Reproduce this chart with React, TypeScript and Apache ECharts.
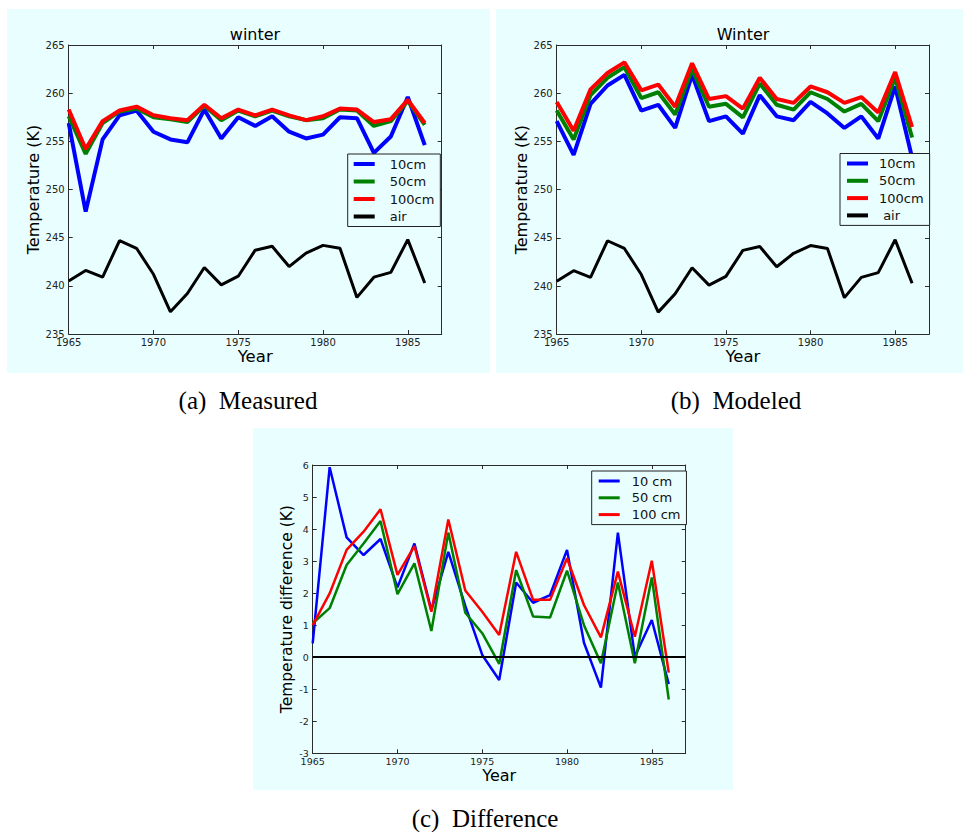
import { useEffect, useRef } from "react";
import * as echarts from "echarts";

// ---------- data ----------
const years = [1965, 1966, 1967, 1968, 1969, 1970, 1971, 1972, 1973, 1974, 1975, 1976, 1977, 1978, 1979, 1980, 1981, 1982, 1983, 1984, 1985, 1986];
const yearTicks = [1965, 1970, 1975, 1980, 1985];

const measured10 = [256.9, 247.7, 255.2, 257.7, 258.2, 256.0, 255.2, 254.9, 258.3, 255.3, 257.5, 256.6, 257.6, 256.0, 255.3, 255.7, 257.5, 257.4, 253.8, 255.5, 259.6, 254.6];
const measured50 = [257.6, 253.7, 256.9, 258.1, 258.4, 257.5, 257.3, 257.0, 258.7, 257.2, 258.2, 257.6, 258.2, 257.6, 257.2, 257.4, 258.3, 258.2, 256.6, 257.1, 259.2, 256.7];
const measured100 = [258.3, 254.2, 257.1, 258.2, 258.6, 257.7, 257.4, 257.2, 258.8, 257.4, 258.3, 257.7, 258.3, 257.7, 257.2, 257.6, 258.4, 258.3, 257.0, 257.3, 259.3, 256.9];
const airTemp = [240.5, 241.6, 240.9, 244.7, 243.9, 241.2, 237.3, 239.2, 241.9, 240.1, 241.0, 243.7, 244.1, 242.0, 243.4, 244.2, 243.9, 238.8, 240.9, 241.4, 244.8, 240.3];

const modeled10 = [257.1, 253.6, 258.9, 260.8, 261.9, 258.2, 258.8, 256.4, 261.9, 257.1, 257.6, 255.8, 259.8, 257.6, 257.2, 259.1, 257.9, 256.4, 257.6, 255.3, 260.7, 253.3];
const modeled50 = [258.2, 255.2, 259.8, 261.6, 262.7, 259.5, 260.1, 257.8, 262.5, 258.6, 258.9, 257.5, 261.0, 258.8, 258.3, 260.1, 259.4, 258.1, 258.9, 257.1, 261.6, 255.4];
const modeled100 = [259.1, 256.1, 260.4, 262.1, 263.2, 260.3, 260.9, 258.6, 263.1, 259.4, 259.7, 258.4, 261.6, 259.4, 259.0, 260.7, 260.1, 259.0, 259.6, 258.0, 262.2, 256.5];

const diff10 = [0.43, 5.93, 3.74, 3.19, 3.69, 2.18, 3.55, 1.47, 3.29, 1.6, 0.07, -0.71, 2.33, 1.7, 1.94, 3.35, 0.45, -0.95, 3.89, 0.02, 1.16, -0.84];
const diff50 = [1.06, 1.53, 2.88, 3.55, 4.25, 1.97, 2.93, 0.82, 3.89, 1.39, 0.75, -0.21, 2.72, 1.27, 1.24, 2.7, 1.0, -0.19, 2.33, -0.19, 2.49, -1.32];
const diff100 = [1.0, 1.99, 3.35, 3.92, 4.62, 2.57, 3.47, 1.42, 4.3, 2.08, 1.42, 0.69, 3.29, 1.79, 1.79, 3.09, 1.63, 0.62, 2.67, 0.64, 3.01, -0.48];

const namesAB = ["10cm", "50cm", "100cm", "air"];
const namesB = ["10cm", "50cm", "100cm", " air"];
const namesC = ["10 cm", "50 cm", "100 cm"];

// ---------- styling ----------
const BG = "#e9fefe";
const AXIS = "#2b2b2b";
const FONT = "DejaVu Sans";
const SERIF = "Liberation Serif";
const BLUE = "#0000ff";
const GREEN = "#008000";
const RED = "#ff0000";
const BLACK = "#000000";

const pairs = (vals: number[]) => vals.map((v, i) => [years[i], v]);

function axesFor(
  grid: number,
  yMin: number,
  yMax: number,
  yInt: number,
  yName: string,
  yGap: number,
  yNameSize: number,
  xGap: number,
  xNameSize: number,
  tickSize: number
) {
  const line = { show: true, onZero: false, lineStyle: { color: AXIS, width: 1 } };
  const tick = { show: true, inside: true, length: 4, lineStyle: { color: AXIS, width: 1 } };
  const xAxes = [
    {
      gridIndex: grid,
      type: "value",
      min: 1965,
      max: 1987,
      position: "bottom",
      axisLine: line,
      axisTick: { ...tick, customValues: yearTicks },
      axisLabel: {
        customValues: yearTicks,
        formatter: (v: number) => String(v),
        fontSize: tickSize,
        color: "#222",
        fontFamily: FONT,
        margin: 3,
      },
      splitLine: { show: false },
      name: "Year",
      nameLocation: "middle",
      nameGap: xGap,
      nameTextStyle: { fontSize: xNameSize, fontFamily: FONT, color: "#000" },
    },
    {
      gridIndex: grid,
      type: "value",
      min: 1965,
      max: 1987,
      position: "top",
      axisLine: line,
      axisTick: { ...tick, customValues: yearTicks },
      axisLabel: { show: false },
      splitLine: { show: false },
    },
  ];
  const yAxes = [
    {
      gridIndex: grid,
      type: "value",
      min: yMin,
      max: yMax,
      interval: yInt,
      position: "left",
      axisLine: line,
      axisTick: tick,
      axisLabel: { fontSize: tickSize, color: "#222", fontFamily: FONT, margin: 4 },
      splitLine: { show: false },
      name: yName,
      nameLocation: "middle",
      nameGap: yGap,
      nameTextStyle: { fontSize: yNameSize, fontFamily: FONT, color: "#000" },
    },
    {
      gridIndex: grid,
      type: "value",
      min: yMin,
      max: yMax,
      interval: yInt,
      position: "right",
      axisLine: line,
      axisTick: tick,
      axisLabel: { show: false },
      splitLine: { show: false },
    },
  ];
  return { xAxes, yAxes };
}

function lineSeries(name: string, vals: number[], color: string, width: number, axis: number) {
  return {
    type: "line",
    name,
    data: pairs(vals),
    xAxisIndex: axis,
    yAxisIndex: axis,
    color,
    symbol: "none",
    showSymbol: false,
    lineStyle: { color, width },
    emphasis: { disabled: true },
  };
}

export default function App() {
  const ref = useRef<HTMLDivElement>(null);

  useEffect(() => {
    document.body.style.margin = "0";
    if (!ref.current) return;
    const chart = echarts.init(ref.current, null, { renderer: "svg" });

    const a = axesFor(0, 235, 265, 5, "Temperature (K)", 27, 16, 12, 16.5, 10);
    const b = axesFor(1, 235, 265, 5, "Temperature (K)", 27, 16, 12, 16.5, 10);
    const c = axesFor(2, -3, 6, 1, "Temperature difference (K)", 18, 15.5, 10, 16, 9.5);

    const legendBase = {
      orient: "vertical",
      backgroundColor: BG,
      borderColor: "#222",
      borderWidth: 1,
      borderRadius: 0,
      icon: "rect",
      itemWidth: 21,
      selectedMode: false,
      textStyle: { fontSize: 13, fontFamily: FONT, color: "#111", lineHeight: 14, padding: [0, 0, 0, 10] },
    };

    const option: any = {
      animation: false,
      backgroundColor: "#ffffff",
      grid: [
        { left: 68.7, top: 45, width: 373, height: 289 },
        { left: 556.7, top: 45, width: 372.3, height: 289.3 },
        { left: 312.7, top: 465, width: 373, height: 288.3 },
      ],
      xAxis: [...a.xAxes, ...b.xAxes, ...c.xAxes],
      yAxis: [...a.yAxes, ...b.yAxes, ...c.yAxes],
      legend: [
        {
          ...legendBase,
          data: namesAB,
          left: 347.7,
          top: 154,
          padding: [3, 6, 3, 6],
          itemGap: 3.5,
          itemHeight: 4,
        },
        {
          ...legendBase,
          data: namesB,
          left: 840,
          top: 153.5,
          padding: [3, 6, 3, 7],
          itemGap: 3.3,
          itemHeight: 4,
          textStyle: { ...legendBase.textStyle, padding: [0, 0, 0, 6] },
        },
        {
          ...legendBase,
          data: namesC,
          left: 591.7,
          top: 471,
          padding: [3, 6, 3, 7],
          itemGap: 2.8,
          itemHeight: 3,
          textStyle: { ...legendBase.textStyle, padding: [0, 0, 0, 7] },
        },
      ],
      series: [
        lineSeries(namesAB[0], measured10, BLUE, 4, 0),
        lineSeries(namesAB[1], measured50, GREEN, 4, 0),
        lineSeries(namesAB[2], measured100, RED, 4, 0),
        lineSeries(namesAB[3], airTemp, BLACK, 3, 0),
        lineSeries(namesB[0], modeled10, BLUE, 4, 2),
        lineSeries(namesB[1], modeled50, GREEN, 4, 2),
        lineSeries(namesB[2], modeled100, RED, 4, 2),
        lineSeries(namesB[3], airTemp, BLACK, 3, 2),
        {
          ...lineSeries(namesC[0], diff10, BLUE, 2.5, 4),
          markLine: {
            silent: true,
            symbol: "none",
            label: { show: false },
            lineStyle: { color: BLACK, width: 2, type: "solid" },
            data: [{ yAxis: 0 }],
          },
        },
        lineSeries(namesC[1], diff50, GREEN, 2.5, 4),
        lineSeries(namesC[2], diff100, RED, 2.5, 4),
      ],
      graphic: [
        { type: "rect", z: -10, shape: { x: 7, y: 9, width: 483, height: 364 }, style: { fill: BG } },
        { type: "rect", z: -10, shape: { x: 496, y: 9, width: 467, height: 364 }, style: { fill: BG } },
        { type: "rect", z: -10, shape: { x: 253, y: 428, width: 480, height: 362 }, style: { fill: BG } },
        {
          type: "text",
          x: 255,
          y: 34,
          style: { text: "winter", fontSize: 16, fontFamily: FONT, fill: "#000", align: "center", verticalAlign: "middle" },
        },
        {
          type: "text",
          x: 743,
          y: 34,
          style: { text: "Winter", fontSize: 16, fontFamily: FONT, fill: "#000", align: "center", verticalAlign: "middle" },
        },
        {
          type: "text",
          x: 248,
          y: 400,
          style: { text: "(a)  Measured", fontSize: 25, fontFamily: SERIF, fill: "#000", align: "center", verticalAlign: "middle" },
        },
        {
          type: "text",
          x: 736,
          y: 400,
          style: { text: "(b)  Modeled", fontSize: 25, fontFamily: SERIF, fill: "#000", align: "center", verticalAlign: "middle" },
        },
        {
          type: "text",
          x: 485,
          y: 818,
          style: { text: "(c)  Difference", fontSize: 25, fontFamily: SERIF, fill: "#000", align: "center", verticalAlign: "middle" },
        },
      ],
    };

    chart.setOption(option);
    return () => chart.dispose();
  }, []);

  return <div ref={ref} style={{ position: "absolute", left: 0, top: 0, width: 964, height: 832 }} />;
}
